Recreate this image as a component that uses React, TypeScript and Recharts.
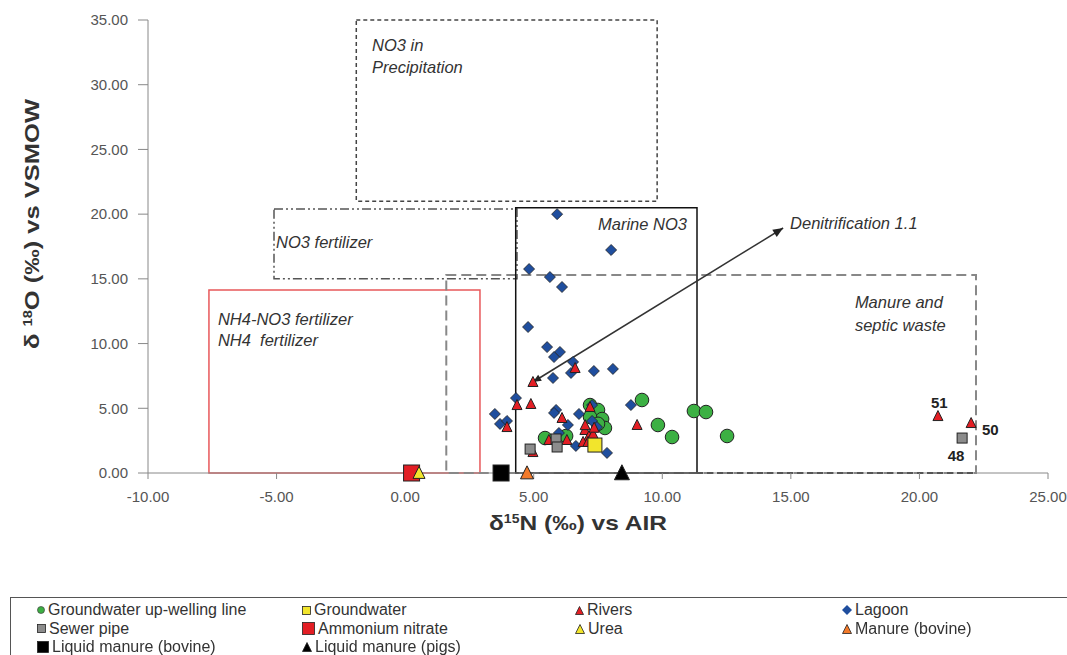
import React from 'react'
import {
  ScatterChart,
  Scatter,
  XAxis,
  YAxis,
  ReferenceArea,
  ReferenceLine,
  ReferenceDot,
  Label,
} from 'recharts'

type Pt = { x: number; y: number }

// δ15N (x) / δ18O (y) values
const upwelling: Pt[] = [
  { x: 7.19, y: 5.25 }, { x: 7.5, y: 4.87 }, { x: 7.66, y: 4.17 }, { x: 7.77, y: 3.48 },
  { x: 7.19, y: 4.33 }, { x: 7.5, y: 3.8 }, { x: 5.44, y: 2.7 }, { x: 6.26, y: 2.86 },
  { x: 9.21, y: 5.64 }, { x: 9.83, y: 3.71 }, { x: 10.38, y: 2.78 }, { x: 11.23, y: 4.79 },
  { x: 11.7, y: 4.71 }, { x: 12.52, y: 2.86 },
]
const groundwater: Pt[] = [{ x: 7.38, y: 2.16 }]
const rivers: Pt[] = [
  { x: 4.97, y: 7.03 }, { x: 6.61, y: 8.11 }, { x: 4.35, y: 5.25 }, { x: 4.89, y: 5.33 },
  { x: 3.96, y: 3.55 }, { x: 6.1, y: 4.25 }, { x: 7.19, y: 5.1 }, { x: 6.99, y: 3.32 },
  { x: 7.15, y: 2.86 }, { x: 7.31, y: 3.01 }, { x: 6.92, y: 2.4 }, { x: 7.11, y: 2.4 },
  { x: 5.59, y: 2.55 }, { x: 6.29, y: 2.55 }, { x: 4.97, y: 1.62 }, { x: 9.02, y: 3.71 },
  { x: 7.0, y: 3.7 }, { x: 7.35, y: 3.5 }, { x: 20.72, y: 4.4 }, { x: 22.01, y: 3.86 },
]
const lagoon: Pt[] = [
  { x: 5.91, y: 20.0 }, { x: 8.01, y: 17.23 }, { x: 4.82, y: 15.76 }, { x: 5.63, y: 15.14 },
  { x: 6.1, y: 14.37 }, { x: 4.78, y: 11.28 }, { x: 5.52, y: 9.73 }, { x: 6.02, y: 9.35 },
  { x: 5.79, y: 8.96 }, { x: 6.53, y: 8.58 }, { x: 7.34, y: 7.88 }, { x: 8.08, y: 8.04 },
  { x: 6.45, y: 7.73 }, { x: 5.75, y: 7.34 }, { x: 4.31, y: 5.79 }, { x: 3.49, y: 4.56 },
  { x: 3.69, y: 3.79 }, { x: 3.96, y: 4.02 }, { x: 5.87, y: 4.87 }, { x: 5.79, y: 4.64 },
  { x: 6.76, y: 4.56 }, { x: 7.27, y: 5.25 }, { x: 7.27, y: 4.02 }, { x: 7.46, y: 3.55 },
  { x: 6.33, y: 3.71 }, { x: 5.98, y: 3.09 }, { x: 6.64, y: 2.09 }, { x: 7.85, y: 1.55 },
  { x: 8.78, y: 5.25 },
]
const sewer: Pt[] = [
  { x: 4.86, y: 1.85 }, { x: 5.87, y: 2.63 }, { x: 5.91, y: 2.01 }, { x: 21.66, y: 2.7 },
]
const ammoniumNitrate: Pt[] = [{ x: 0.25, y: 0 }]
const urea: Pt[] = [{ x: 0.54, y: 0 }]
const manureBovine: Pt[] = [{ x: 4.74, y: 0 }]
const liquidBovine: Pt[] = [{ x: 3.73, y: 0 }]
const liquidPigs: Pt[] = [{ x: 8.43, y: 0 }]

const X_TICKS = [-10, -5, 0, 5, 10, 15, 20, 25]
const Y_TICKS = [0, 5, 10, 15, 20, 25, 30, 35]

const denitrification = [{ x: 4.97, y: 7.03 }, { x: 14.7, y: 18.93 }]

const notes = [
  { x: -1.29, y: 32.6, text: 'NO3 in' },
  { x: -1.29, y: 30.9, text: 'Precipitation' },
  { x: -5.02, y: 17.38, text: 'NO3 fertilizer' },
  { x: 7.5, y: 18.77, text: 'Marine NO3' },
  { x: 14.97, y: 18.85, text: 'Denitrification 1.1' },
  { x: 17.49, y: 12.75, text: 'Manure and' },
  { x: 17.49, y: 10.97, text: 'septic waste' },
  { x: -7.28, y: 11.43, text: 'NH4-NO3 fertilizer' },
  { x: -7.28, y: 9.81, text: 'NH4  fertilizer' },
]
const sampleIds = [
  { x: 20.45, y: 5.02, text: '51' },
  { x: 22.43, y: 2.94, text: '50' },
  { x: 21.1, y: 0.93, text: '48' },
]

const FONT = '"Liberation Sans", Arial, sans-serif'
const EDGE = '#222'

const circle = (fill: string, r: number) => (p: any) =>
  <circle cx={p.cx} cy={p.cy} r={r} fill={fill} stroke={EDGE} strokeWidth={1} />
const square = (fill: string, s: number) => (p: any) =>
  <rect x={p.cx - s / 2} y={p.cy - s / 2} width={s} height={s} fill={fill} stroke={EDGE} strokeWidth={1} />
const triangle = (fill: string, s: number) => (p: any) => (
  <polygon
    points={`${p.cx},${p.cy - s * 0.55} ${p.cx - s / 2},${p.cy + s * 0.45} ${p.cx + s / 2},${p.cy + s * 0.45}`}
    fill={fill}
    stroke={EDGE}
    strokeWidth={1}
  />
)
const diamond = (fill: string, s: number) => (p: any) => (
  <polygon
    points={`${p.cx},${p.cy - s} ${p.cx + s},${p.cy} ${p.cx},${p.cy + s} ${p.cx - s},${p.cy}`}
    fill={fill}
    stroke={EDGE}
    strokeWidth={0.8}
  />
)

const series = [
  { name: 'Groundwater up-welling line', data: upwelling, color: '#3cb043', kind: 'circle', size: 6.8 },
  { name: 'Lagoon', data: lagoon, color: '#1f4e9e', kind: 'diamond', size: 5.5 },
  { name: 'Rivers', data: rivers, color: '#e31e24', kind: 'triangle', size: 10 },
  { name: 'Sewer pipe', data: sewer, color: '#8c8c8c', kind: 'square', size: 10 },
  { name: 'Groundwater', data: groundwater, color: '#f2e52c', kind: 'square', size: 14 },
  { name: 'Ammonium nitrate', data: ammoniumNitrate, color: '#e31e24', kind: 'square', size: 16 },
  { name: 'Urea', data: urea, color: '#f2e52c', kind: 'triangle', size: 12 },
  { name: 'Manure (bovine)', data: manureBovine, color: '#f37a2a', kind: 'triangle', size: 13 },
  { name: 'Liquid manure (bovine)', data: liquidBovine, color: '#000', kind: 'square', size: 16 },
  { name: 'Liquid manure (pigs)', data: liquidPigs, color: '#000', kind: 'triangle', size: 15 },
]

const shapeFor = (s: (typeof series)[number]) =>
  s.kind === 'circle' ? circle(s.color, s.size)
    : s.kind === 'diamond' ? diamond(s.color, s.size)
      : s.kind === 'triangle' ? triangle(s.color, s.size)
        : square(s.color, s.size)

// legend order, as in the figure (4 columns)
const legendOrder = [
  'Groundwater up-welling line', 'Groundwater', 'Rivers', 'Lagoon',
  'Sewer pipe', 'Ammonium nitrate', 'Urea', 'Manure (bovine)',
  'Liquid manure (bovine)', 'Liquid manure (pigs)',
]
const legendSize: Record<string, number> = {
  'Groundwater up-welling line': 8, Groundwater: 9, Rivers: 9, Lagoon: 10,
  'Sewer pipe': 9, 'Ammonium nitrate': 13, Urea: 10, 'Manure (bovine)': 10,
  'Liquid manure (bovine)': 12, 'Liquid manure (pigs)': 10,
}

function LegendMark({ kind, color, size }: { kind: string; color: string; size: number }) {
  const h = size
  let el: React.ReactNode
  if (kind === 'circle') el = <circle cx={h / 2} cy={h / 2} r={h / 2 - 0.5} fill={color} stroke="#444" strokeWidth={0.7} />
  else if (kind === 'diamond') el = <polygon points={`${h / 2},0 ${h},${h / 2} ${h / 2},${h} 0,${h / 2}`} fill={color} />
  else if (kind === 'triangle') el = <polygon points={`${h / 2},0.5 ${h - 0.5},${h - 0.5} 0.5,${h - 0.5}`} fill={color} stroke="#222" strokeWidth={0.8} />
  else el = <rect x={0.5} y={0.5} width={h - 1} height={h - 1} fill={color} stroke="#222" strokeWidth={0.8} />
  return <svg width={h} height={h} style={{ marginRight: 3, flex: 'none' }}>{el}</svg>
}

const arrowShape = (p: any) => {
  const { x1, y1, x2, y2 } = p
  const ang = Math.atan2(y2 - y1, x2 - x1)
  const head = (x: number, y: number, a: number, len: number) => {
    const w = 0.4
    return `${x},${y} ${x - len * Math.cos(a - w)},${y - len * Math.sin(a - w)} ${x - len * Math.cos(a + w)},${y - len * Math.sin(a + w)}`
  }
  return (
    <g>
      <line x1={x1} y1={y1} x2={x2} y2={y2} stroke="#333" strokeWidth={1.5} />
      <polygon points={head(x2, y2, ang, 11)} fill="#222" />
      <polygon points={head(x1, y1, ang + Math.PI, 9)} fill="#222" />
    </g>
  )
}

export default function App() {
  const byName = Object.fromEntries(series.map((s) => [s.name, s]))
  return (
    <div style={{ position: 'fixed', left: 0, top: 0, width: 1067, height: 655, background: '#fff', fontFamily: FONT }}>
      <ScatterChart width={1067} height={590} margin={{ top: 20, right: 19, left: 0, bottom: 0 }}>
        <XAxis
          type="number"
          dataKey="x"
          domain={[-10, 25]}
          ticks={X_TICKS}
          tickFormatter={(v: number) => v.toFixed(2)}
          tick={{ fill: '#555', fontSize: 15, fontFamily: FONT }}
          stroke="#888"
          tickSize={6}
          tickMargin={12}
          height={117}
        >
          <Label
            content={() => (
              <text x={578} y={530} textAnchor="middle" fontFamily={FONT} fontWeight="bold" fontSize={21} fill="#333" textLength={178} lengthAdjust="spacingAndGlyphs">
                <tspan>δ</tspan>
                <tspan dy={-7} fontSize={12}>15</tspan>
                <tspan dy={7}>N (‰) vs AIR</tspan>
              </text>
            )}
          />
        </XAxis>
        <YAxis
          type="number"
          dataKey="y"
          domain={[0, 35]}
          ticks={Y_TICKS}
          tickFormatter={(v: number) => v.toFixed(2)}
          tick={{ fill: '#555', fontSize: 15, fontFamily: FONT }}
          stroke="#888"
          tickSize={10}
          tickMargin={10}
          width={148}
        >
          <Label
            content={() => (
              <text transform="translate(39,224) rotate(-90)" textAnchor="middle" fontFamily={FONT} fontWeight="bold" fontSize={21} fill="#333" textLength={250} lengthAdjust="spacingAndGlyphs">
                <tspan>δ </tspan>
                <tspan dy={-7} fontSize={12}>18</tspan>
                <tspan dy={7}>O (‰) vs VSMOW</tspan>
              </text>
            )}
          />
        </YAxis>

        <ReferenceArea x1={-1.9} x2={9.8} y1={21} y2={35} fill="none" stroke="#444" strokeWidth={1.5} strokeDasharray="4 3" />
        <ReferenceArea x1={-5.1} x2={4.35} y1={15} y2={20.4} fill="none" stroke="#555" strokeWidth={1.5} strokeDasharray="9 3 2 3 2 3" />
        <ReferenceArea x1={-7.63} x2={2.91} y1={0} y2={14.14} fill="none" stroke="#e8585a" strokeWidth={1.5} />
        <ReferenceArea x1={1.6} x2={22.2} y1={0} y2={15.3} fill="none" stroke="#888" strokeWidth={2} strokeDasharray="10 5" />
        <ReferenceArea x1={4.3} x2={11.35} y1={0} y2={20.5} fill="none" stroke="#111" strokeWidth={1.5} />
        <ReferenceLine segment={[{ x: 11.35, y: 0 }, { x: 22.2, y: 0 }]} stroke="#222" strokeWidth={2} strokeDasharray="6 4" />
        <ReferenceLine segment={denitrification} shape={arrowShape} />

        {notes.map((n) => (
          <ReferenceDot
            key={n.text}
            x={n.x}
            y={n.y}
            r={0}
            fill="none"
            stroke="none"
            label={(p: any) => (
              <text x={p.viewBox.x} y={p.viewBox.y} fontFamily={FONT} fontStyle="italic" fontSize={16.5} fill="#333" style={{ whiteSpace: 'pre' }}>
                {n.text}
              </text>
            )}
          />
        ))}

        {series.map((s) => (
          <Scatter key={s.name} name={s.name} data={s.data} shape={shapeFor(s)} isAnimationActive={false} />
        ))}

        {sampleIds.map((n) => (
          <ReferenceDot
            key={n.text}
            x={n.x}
            y={n.y}
            r={0}
            fill="none"
            stroke="none"
            isFront
            label={(p: any) => (
              <text x={p.viewBox.x} y={p.viewBox.y} fontFamily={FONT} fontWeight="bold" fontSize={15} fill="#222">
                {n.text}
              </text>
            )}
          />
        ))}
      </ScatterChart>

      <div
        style={{
          position: 'absolute',
          left: 10,
          top: 597,
          width: 1057,
          height: 58,
          borderTop: '1px solid #555',
          borderLeft: '1px solid #555',
          boxSizing: 'border-box',
          display: 'grid',
          gridTemplateColumns: '265px 273px 267px auto',
          gridAutoRows: '18.5px',
          paddingLeft: 26,
          paddingTop: 3,
          fontSize: 16,
          color: '#333',
        }}
      >
        {legendOrder.map((name) => {
          const s = byName[name]
          return (
            <div key={name} style={{ display: 'flex', alignItems: 'center', whiteSpace: 'nowrap' }}>
              <LegendMark kind={s.kind} color={s.color} size={legendSize[name]} />
              {name}
            </div>
          )
        })}
      </div>
    </div>
  )
}
